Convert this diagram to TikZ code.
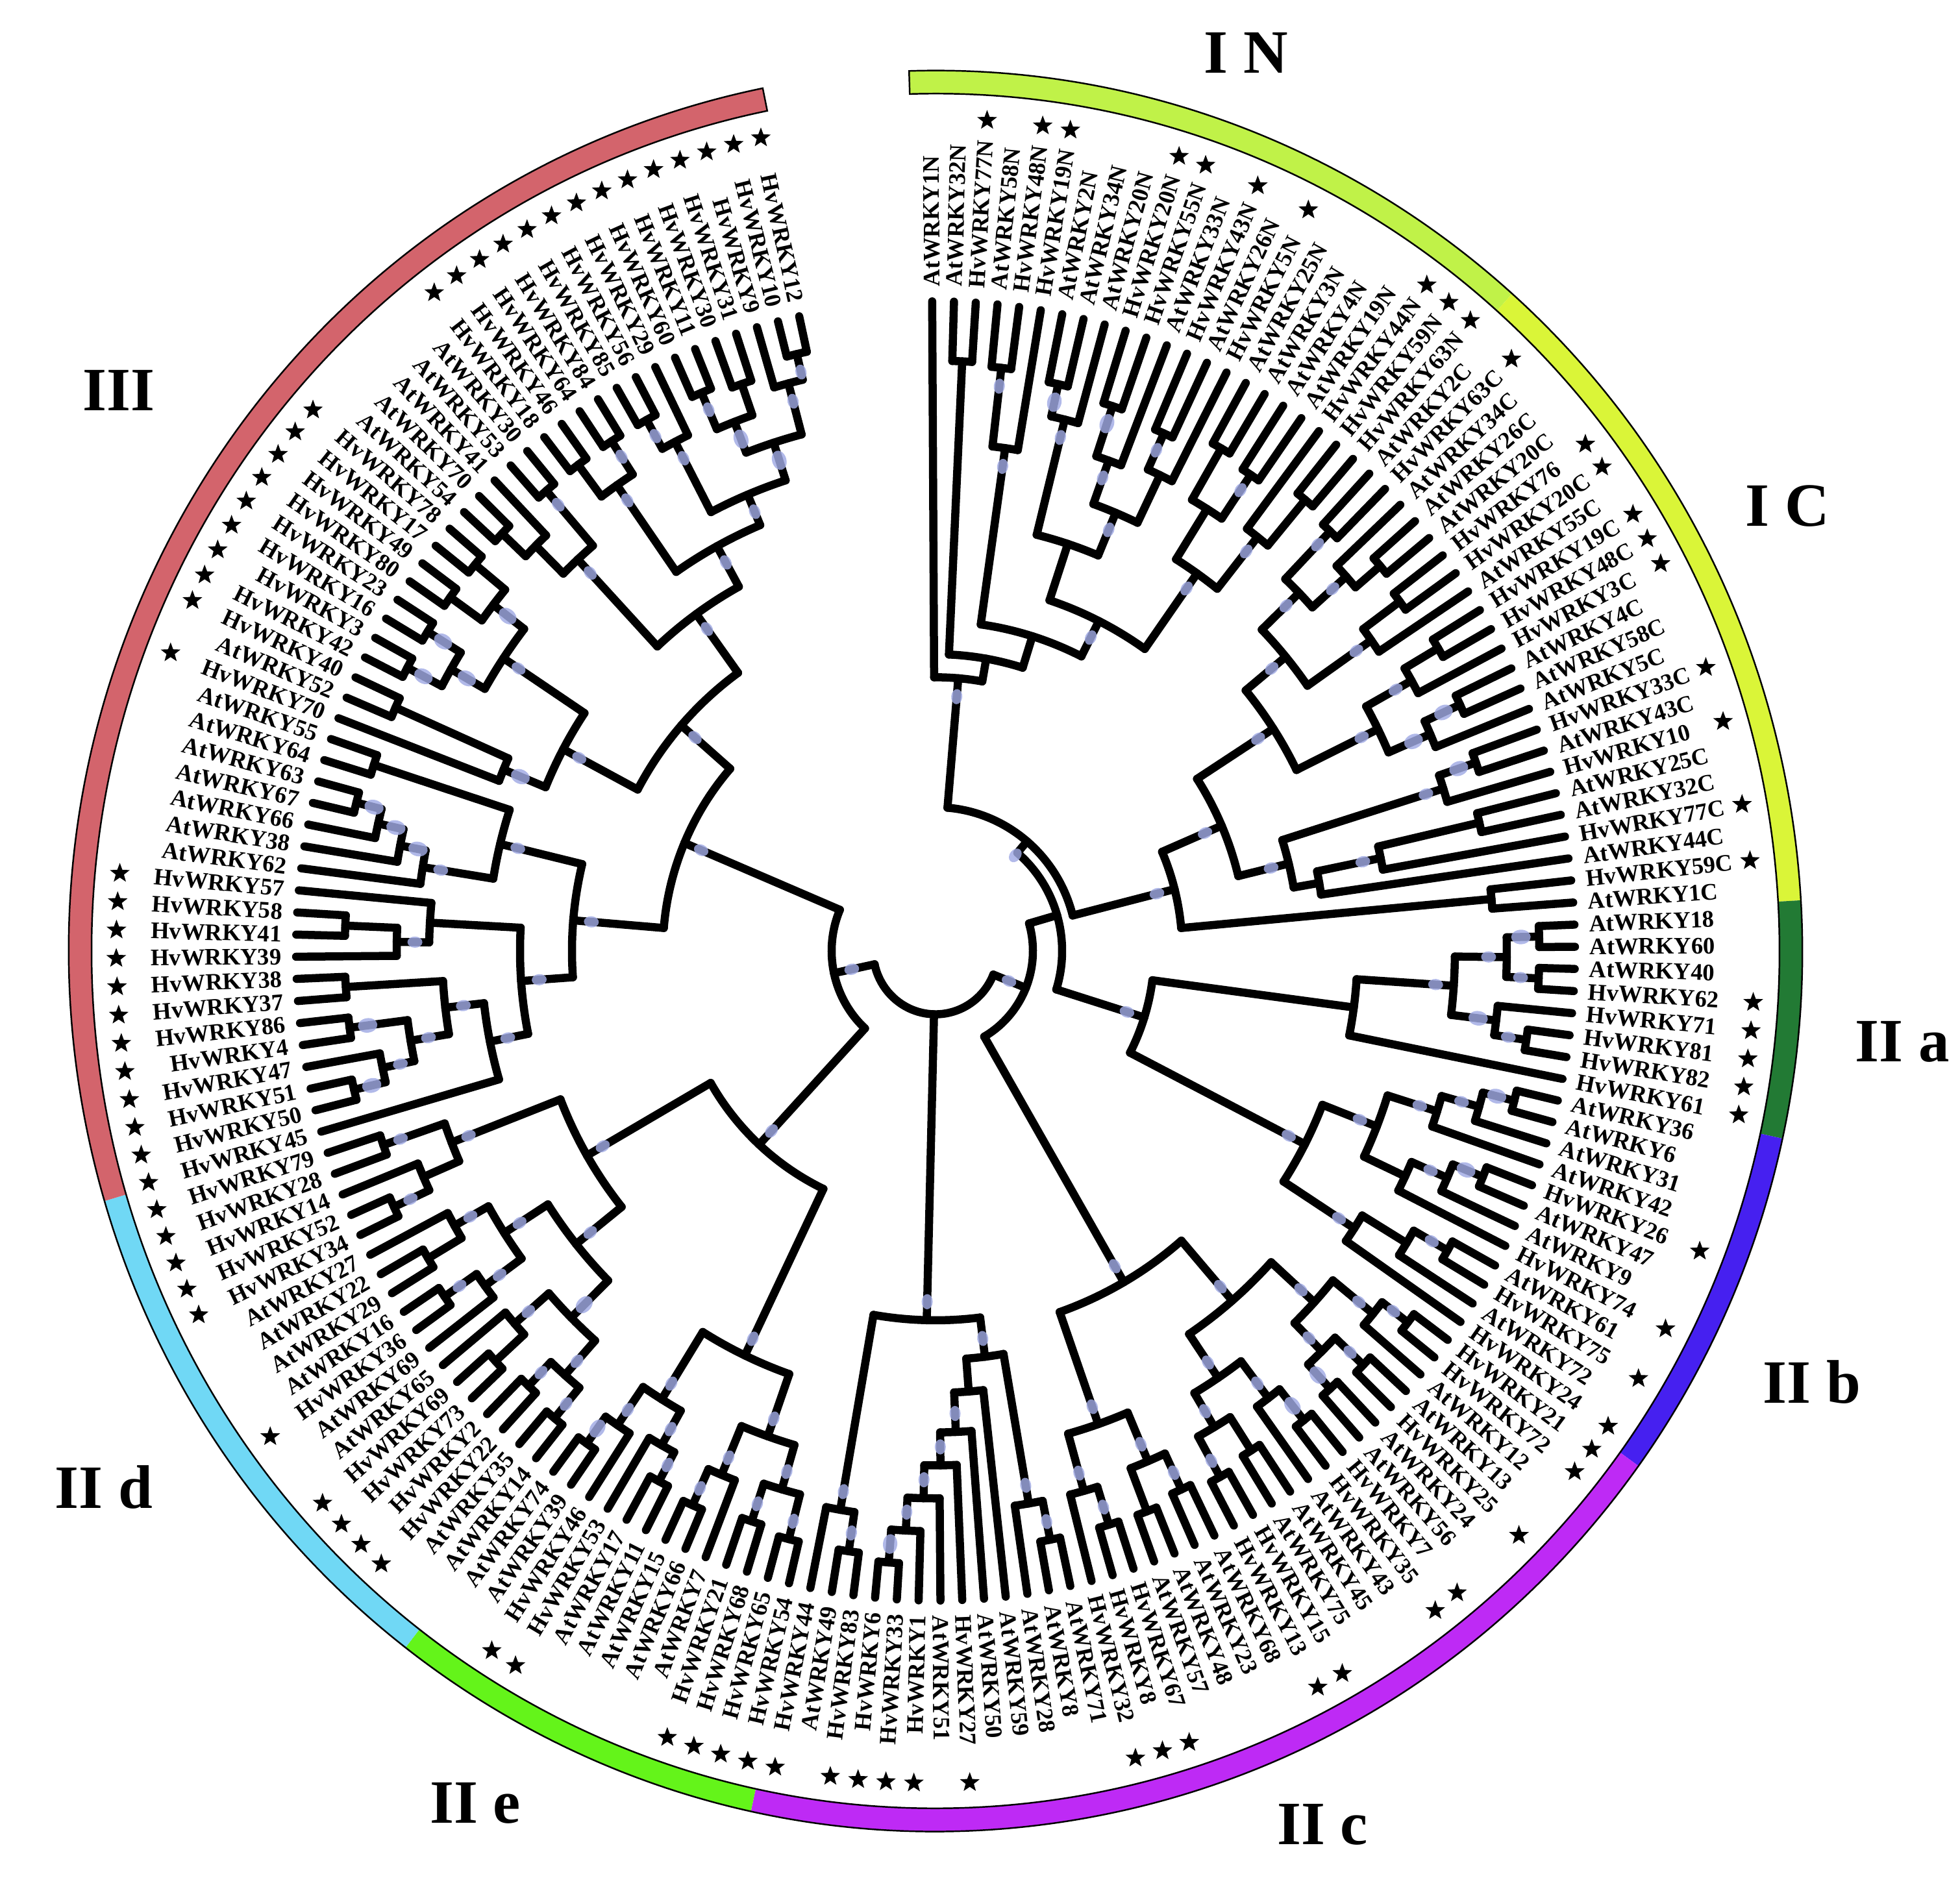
\documentclass[tikz,border=0pt]{standalone}
\usepackage{fontspec}
\setmainfont{Liberation Serif}
\usetikzlibrary{shapes.geometric}
\pgfdeclarelayer{fg}
\pgfsetlayers{main,fg}
\definecolor{cIN}{RGB}{192,242,72}
\definecolor{cIC}{RGB}{218,245,56}
\definecolor{cIIa}{RGB}{34,122,52}
\definecolor{cIIb}{RGB}{70,32,240}
\definecolor{cIIc}{RGB}{190,42,245}
\definecolor{cIIe}{RGB}{100,244,26}
\definecolor{cIId}{RGB}{112,216,245}
\definecolor{cIII}{RGB}{211,100,108}
\definecolor{bsc}{RGB}{160,170,228}
\newcount\stk
\newcount\lfn
\def\thzero{-0.3}
\def\dth{1.955}
\def\tipR{9.85}
\def\lblR{10.07}
\def\starR{12.62}
\newcommand\lv[2]{%
  \global\advance\lfn by 1
  \pgfmathsetmacro\mth{\thzero+(\the\lfn-1)*\dth}%
  \pgfmathsetmacro\mph{90-\mth}%
  \ifdim\mth pt<180pt
    \node[lbl,anchor=west,rotate=\mph] at (\mph:\lblR) {#1};%
  \else
    \pgfmathsetmacro\mphr{\mph+180}%
    \node[lbl,anchor=east,rotate=\mphr] at (\mph:\lblR) {#1};%
  \fi
  \ifnum#2=1 \node[stmark] at (\mph:\starR) {};\fi
  \global\advance\stk by 1
  \expandafter\xdef\csname sa\the\stk\endcsname{\mph}%
  \expandafter\xdef\csname sr\the\stk\endcsname{\tipR}%
}
\newcommand\jn[3]{%
  \pgfmathtruncatemacro\jfirst{\the\stk-#1+1}%
  \edef\jlast{\the\stk}%
  \edef\aF{\csname sa\jfirst\endcsname}%
  \edef\aL{\csname sa\jlast\endcsname}%
  \draw[br] (\aF:#2) arc[start angle=\aF, end angle=\aL, radius=#2];%
  \foreach \i in {\jfirst,...,\jlast}{%
    \edef\ta{\csname sa\i\endcsname}%
    \edef\tr{\csname sr\i\endcsname}%
    \draw[br] (\ta:#2) -- (\ta:\tr);%
  }%
  \pgfmathsetmacro\aN{(\aF+\aL)/2}%
  \ifnum#3>0
    \pgfmathsetmacro\dotx{0.08+0.035*#3}%
    \pgfmathsetmacro\doty{0.06+0.025*#3}%
    \pgfmathsetmacro\dr{#2-0.28}%
    \begin{pgfonlayer}{fg}
      \begin{scope}[shift={(\aN:\dr)}, rotate=\aN]
        \fill[bsdot] (0,0) ellipse[x radius=\dotx, y radius=\doty];
      \end{scope}
    \end{pgfonlayer}
  \fi
  \global\stk=\jfirst\relax
  \expandafter\xdef\csname sa\the\stk\endcsname{\aN}%
  \expandafter\xdef\csname sr\the\stk\endcsname{#2}%
}
\newcommand\ringseg[3]{%
  \pgfmathsetmacro\ringA{90-#1}%
  \pgfmathsetmacro\ringB{90-#2}%
  \fill[#3] (\ringA:13.0) arc[start angle=\ringA,end angle=\ringB,radius=13.0]
    -- (\ringB:13.35) arc[start angle=\ringB,end angle=\ringA,radius=13.35] -- cycle;
}
\begin{document}
\begin{tikzpicture}[
  br/.style={line width=0.125cm, line cap=round, black},
  lbl/.style={font={\fontsize{10.4}{11}\selectfont\bfseries}, inner sep=0pt},
  stmark/.style={star, star points=5, star point ratio=2.4, fill=black, inner sep=0pt, minimum size=0.32cm},
  bsdot/.style={fill=bsc, opacity=0.82},
  grp/.style={font={\fontsize{27}{30}\selectfont\bfseries}, inner sep=0pt}
]
\useasboundingbox (-14.41,-14.41) rectangle (15.78,14.65);
\begin{scope}[yscale=1.016]
% ring
\ringseg{-1.75}{41.7}{cIN}
\ringseg{41.7}{86.7}{cIC}
\ringseg{86.7}{102.3}{cIIa}
\ringseg{102.3}{125.8}{cIIb}
\ringseg{125.8}{192.3}{cIIc}
\ringseg{192.3}{217.7}{cIIe}
\ringseg{217.7}{253.5}{cIId}
\ringseg{253.5}{348.5}{cIII}
\draw[line width=0.7pt] (91.75:13.0) arc[start angle=91.75,end angle=-258.5,radius=13.0]
  -- (-258.5:13.35) arc[start angle=-258.5,end angle=91.75,radius=13.35] -- cycle;
% ---------- I N ----------
\lv{AtWRKY1N}{0}
\lv{AtWRKY32N}{0}\lv{HvWRKY77N}{1}\jn{2}{8.95}{0}
\lv{AtWRKY58N}{0}\lv{HvWRKY48N}{1}\jn{2}{8.9}{1}\lv{HvWRKY19N}{1}\jn{2}{7.7}{1}
\lv{AtWRKY2N}{0}\lv{AtWRKY34N}{0}\jn{2}{8.8}{2}\lv{AtWRKY20N}{0}\jn{2}{8.3}{1}
\lv{HvWRKY20N}{1}\lv{HvWRKY55N}{1}\jn{2}{8.7}{2}\lv{AtWRKY33N}{0}\jn{2}{7.9}{1}
\lv{HvWRKY43N}{1}\lv{AtWRKY26N}{0}\jn{2}{8.6}{1}\lv{HvWRKY5N}{1}\jn{2}{8.0}{0}
\jn{2}{7.2}{1}\jn{2}{6.5}{0}
\lv{AtWRKY25N}{0}\lv{AtWRKY3N}{0}\jn{2}{8.8}{0}\lv{AtWRKY4N}{0}\lv{AtWRKY19N}{0}\jn{2}{8.7}{1}\jn{2}{7.9}{0}
\lv{HvWRKY44N}{1}\lv{HvWRKY59N}{1}\lv{HvWRKY63N}{1}\jn{2}{8.9}{0}\jn{2}{8.0}{1}\jn{2}{7.0}{1}
\jn{2}{5.6}{1}\jn{2}{5.0}{0}\jn{2}{4.5}{0}\jn{2}{4.15}{1}
% ---------- I C ----------
\lv{AtWRKY2C}{0}\lv{HvWRKY63C}{1}\jn{2}{8.8}{1}
\lv{AtWRKY34C}{0}\lv{AtWRKY26C}{0}\lv{AtWRKY20C}{0}\jn{2}{9.0}{0}\jn{2}{8.5}{1}\jn{2}{7.8}{1}
\lv{HvWRKY76}{1}\lv{HvWRKY20C}{1}\jn{2}{8.9}{0}\lv{AtWRKY55C}{0}\jn{2}{8.2}{1}\jn{2}{7.0}{1}
\lv{HvWRKY19C}{1}\lv{HvWRKY48C}{1}\jn{2}{9.0}{0}\lv{HvWRKY3C}{1}\jn{2}{8.4}{1}
\lv{AtWRKY4C}{0}\lv{AtWRKY58C}{0}\jn{2}{8.9}{2}\lv{AtWRKY5C}{0}\jn{2}{8.3}{2}\jn{2}{7.6}{1}\jn{2}{6.2}{1}
\lv{HvWRKY33C}{1}\lv{AtWRKY43C}{0}\jn{2}{8.8}{2}\lv{HvWRKY10}{1}\jn{2}{8.2}{1}
\lv{AtWRKY25C}{0}\lv{AtWRKY32C}{0}\jn{2}{8.6}{0}\lv{HvWRKY77C}{1}\jn{2}{7.0}{1}\lv{AtWRKY44C}{0}\jn{2}{6.0}{0}
\jn{2}{5.6}{1}\jn{2}{4.8}{1}
\lv{HvWRKY59C}{1}\lv{AtWRKY1C}{0}\jn{2}{8.6}{0}\jn{2}{3.8}{1}
\jn{2}{2.18}{1}
% ---------- II a ----------
\lv{AtWRKY18}{0}\lv{AtWRKY60}{0}\jn{2}{9.3}{2}\lv{AtWRKY40}{0}\lv{HvWRKY62}{1}\jn{2}{9.3}{1}\jn{2}{8.8}{1}
\lv{HvWRKY71}{1}\lv{HvWRKY81}{1}\lv{HvWRKY82}{1}\jn{2}{9.2}{1}\jn{2}{8.7}{2}\jn{2}{8.0}{1}
\lv{HvWRKY61}{1}\jn{2}{6.5}{0}
% ---------- II b ----------
\lv{AtWRKY36}{0}\lv{AtWRKY6}{0}\jn{2}{9.2}{2}\lv{AtWRKY31}{0}\jn{2}{8.7}{1}\lv{AtWRKY42}{0}\jn{2}{8.1}{1}
\lv{HvWRKY26}{1}\lv{AtWRKY47}{0}\jn{2}{9.1}{2}\lv{AtWRKY9}{0}\jn{2}{8.6}{1}\lv{HvWRKY74}{1}\jn{2}{8.0}{0}
\jn{2}{7.3}{1}
\lv{AtWRKY61}{0}\lv{HvWRKY75}{1}\jn{2}{9.1}{1}\lv{AtWRKY72}{0}\jn{2}{8.5}{0}\lv{HvWRKY24}{1}\jn{2}{7.7}{1}
\jn{2}{6.4}{1}
\jn{2}{3.37}{1}
\jn{2}{1.95}{0}
% ---------- II c (a) ----------
\lv{HvWRKY21}{1}\lv{HvWRKY72}{1}\jn{2}{9.2}{1}\lv{AtWRKY12}{0}\jn{2}{8.7}{1}
\lv{AtWRKY13}{0}\lv{HvWRKY25}{1}\jn{2}{9.1}{1}\lv{AtWRKY24}{0}\lv{AtWRKY56}{0}\jn{2}{9.0}{2}\jn{2}{8.5}{1}\jn{2}{7.9}{1}
\lv{HvWRKY7}{1}\lv{HvWRKY35}{1}\jn{2}{9.1}{2}\lv{AtWRKY43}{0}\jn{2}{8.5}{1}
\lv{AtWRKY45}{0}\lv{AtWRKY75}{0}\jn{2}{9.0}{0}\lv{HvWRKY15}{1}\lv{HvWRKY13}{1}\jn{2}{9.1}{1}\jn{2}{8.4}{1}\jn{2}{7.8}{1}
\jn{2}{7.0}{1}
\lv{AtWRKY68}{0}\lv{AtWRKY23}{0}\jn{2}{9.0}{1}\lv{AtWRKY48}{0}\lv{AtWRKY57}{0}\jn{2}{9.1}{0}\jn{2}{8.4}{1}
\lv{HvWRKY67}{1}\lv{HvWRKY8}{1}\jn{2}{9.1}{1}\lv{HvWRKY32}{1}\jn{2}{8.5}{1}\jn{2}{7.6}{1}
\jn{2}{5.8}{1}
\jn{2}{1.5}{1}
% ---------- II c (b) ----------
\lv{AtWRKY71}{0}\lv{AtWRKY8}{0}\jn{2}{9.1}{1}\lv{AtWRKY28}{0}\jn{2}{8.5}{1}
\lv{AtWRKY59}{0}\lv{AtWRKY50}{0}\lv{HvWRKY27}{1}\lv{AtWRKY51}{0}\lv{HvWRKY1}{1}\lv{HvWRKY33}{1}\lv{HvWRKY6}{1}
\jn{2}{9.3}{2}\jn{2}{8.8}{1}\jn{2}{8.3}{1}\jn{2}{7.8}{1}\jn{2}{7.3}{1}\jn{2}{6.7}{0}
\jn{2}{6.2}{1}
\lv{HvWRKY83}{1}\lv{AtWRKY49}{0}\jn{2}{9.2}{1}\lv{HvWRKY44}{1}\jn{2}{8.6}{1}
\jn{2}{5.6}{1}
% ---------- II e ----------
\lv{HvWRKY54}{1}\lv{HvWRKY65}{1}\jn{2}{9.2}{1}\lv{HvWRKY68}{1}\lv{HvWRKY21}{1}\jn{2}{9.1}{1}\jn{2}{8.5}{1}
\lv{AtWRKY7}{0}\lv{AtWRKY66}{0}\lv{AtWRKY15}{0}\jn{2}{9.2}{1}\jn{2}{8.6}{1}\jn{2}{7.8}{1}
\lv{AtWRKY11}{0}\lv{AtWRKY17}{0}\jn{2}{9.1}{1}\lv{HvWRKY53}{1}\jn{2}{8.6}{1}
\lv{HvWRKY46}{1}\lv{AtWRKY39}{0}\lv{AtWRKY74}{0}\jn{2}{9.2}{2}\jn{2}{8.7}{1}\jn{2}{8.0}{1}
\jn{2}{6.8}{1}
% ---------- II d ----------
\lv{AtWRKY14}{0}\lv{AtWRKY35}{0}\jn{2}{9.2}{1}\lv{HvWRKY22}{1}\lv{HvWRKY2}{1}\jn{2}{9.1}{1}\jn{2}{8.6}{1}
\lv{HvWRKY73}{1}\lv{HvWRKY69}{1}\jn{2}{9.2}{0}\lv{AtWRKY65}{0}\jn{2}{8.6}{1}\jn{2}{7.9}{2}
\lv{AtWRKY69}{0}\lv{HvWRKY36}{1}\lv{AtWRKY16}{0}\jn{2}{9.2}{1}\jn{2}{8.6}{1}
\lv{AtWRKY29}{0}\lv{AtWRKY22}{0}\jn{2}{9.1}{0}\lv{AtWRKY27}{0}\jn{2}{8.5}{1}\jn{2}{7.9}{1}
\jn{2}{7.1}{1}
\lv{HvWRKY34}{1}\lv{HvWRKY52}{1}\jn{2}{9.2}{1}\lv{HvWRKY14}{1}\jn{2}{8.6}{0}\lv{HvWRKY28}{1}\lv{HvWRKY79}{1}\jn{2}{9.0}{1}\jn{2}{8.0}{1}
\jn{2}{6.2}{1}
\jn{2}{4.0}{1}
% ---------- III ----------
\lv{HvWRKY45}{1}
\lv{HvWRKY50}{1}\lv{HvWRKY51}{1}\jn{2}{9.2}{2}\lv{HvWRKY47}{1}\jn{2}{8.7}{1}
\lv{HvWRKY4}{1}\lv{HvWRKY86}{1}\jn{2}{9.1}{2}\jn{2}{8.2}{1}
\lv{HvWRKY37}{1}\lv{HvWRKY38}{1}\jn{2}{9.1}{0}\jn{2}{7.6}{1}
\jn{2}{7.0}{1}
\lv{HvWRKY39}{1}\lv{HvWRKY41}{1}\lv{HvWRKY58}{1}\jn{2}{9.1}{0}\jn{2}{8.3}{1}\lv{HvWRKY57}{1}\jn{2}{7.8}{0}
\jn{2}{6.4}{1}
\lv{AtWRKY62}{0}\lv{AtWRKY38}{0}\lv{AtWRKY66}{0}\lv{AtWRKY67}{0}\lv{AtWRKY63}{0}\jn{2}{9.2}{2}\jn{2}{8.8}{2}\jn{2}{8.4}{2}\jn{2}{8.0}{1}
\lv{AtWRKY64}{0}\lv{AtWRKY55}{0}\jn{2}{9.1}{0}\jn{2}{6.9}{1}
\jn{2}{5.6}{1}
\lv{HvWRKY70}{1}\lv{AtWRKY52}{0}\lv{HvWRKY40}{1}\jn{2}{9.1}{0}\jn{2}{7.2}{2}
\lv{HvWRKY42}{1}\lv{HvWRKY3}{1}\jn{2}{9.2}{2}\lv{HvWRKY16}{1}\lv{HvWRKY23}{1}\jn{2}{9.2}{2}\jn{2}{8.6}{2}
\lv{HvWRKY80}{1}\lv{HvWRKY49}{1}\jn{2}{9.2}{0}\lv{HvWRKY17}{1}\lv{HvWRKY78}{1}\jn{2}{9.2}{0}\jn{2}{8.6}{2}\jn{2}{8.0}{1}
\jn{2}{6.5}{1}
\lv{AtWRKY54}{0}\lv{AtWRKY70}{0}\jn{2}{9.2}{0}\lv{AtWRKY41}{0}\jn{2}{8.7}{0}\lv{AtWRKY53}{0}\lv{AtWRKY30}{0}\jn{2}{9.2}{1}\jn{2}{8.1}{1}
\lv{HvWRKY18}{1}\lv{HvWRKY46}{1}\jn{2}{9.2}{0}\lv{HvWRKY64}{1}\lv{HvWRKY84}{1}\jn{2}{9.2}{1}\jn{2}{8.6}{1}
\lv{HvWRKY85}{1}\lv{HvWRKY56}{1}\jn{2}{9.2}{1}\lv{HvWRKY29}{1}\jn{2}{8.7}{1}
\lv{HvWRKY60}{1}\lv{HvWRKY11}{1}\jn{2}{9.2}{1}\lv{HvWRKY30}{1}\lv{HvWRKY31}{1}\jn{2}{9.1}{0}\jn{2}{8.6}{2}
\lv{HvWRKY9}{1}\lv{HvWRKY10}{1}\lv{HvWRKY12}{1}\jn{2}{9.3}{1}\jn{2}{8.9}{1}
\jn{2}{8.1}{2}\jn{2}{7.5}{1}\jn{2}{7.0}{1}\jn{2}{6.3}{1}
\jn{2}{5.2}{1}
\jn{2}{4.2}{1}
\jn{2}{1.6}{1}
% root
\jn{3}{0.96}{0}
\end{scope}
% group labels
\node[grp] (gIII) at (-12.58,8.64) {III};
\node[grp] (gIN) at (4.78,13.84) {I N};
\node[grp] (gIC) at (13.12,6.85) {I C};
\node[grp] (gIIa) at (14.89,-1.40) {II a};
\node[grp] (gIIb) at (13.50,-6.64) {II b};
\node[grp] (gIIc) at (5.96,-13.46) {II c};
\node[grp] (gIId) at (-12.81,-8.26) {II d};
\node[grp] (gIIe) at (-7.09,-13.13) {II e};
\end{tikzpicture}
\end{document}
